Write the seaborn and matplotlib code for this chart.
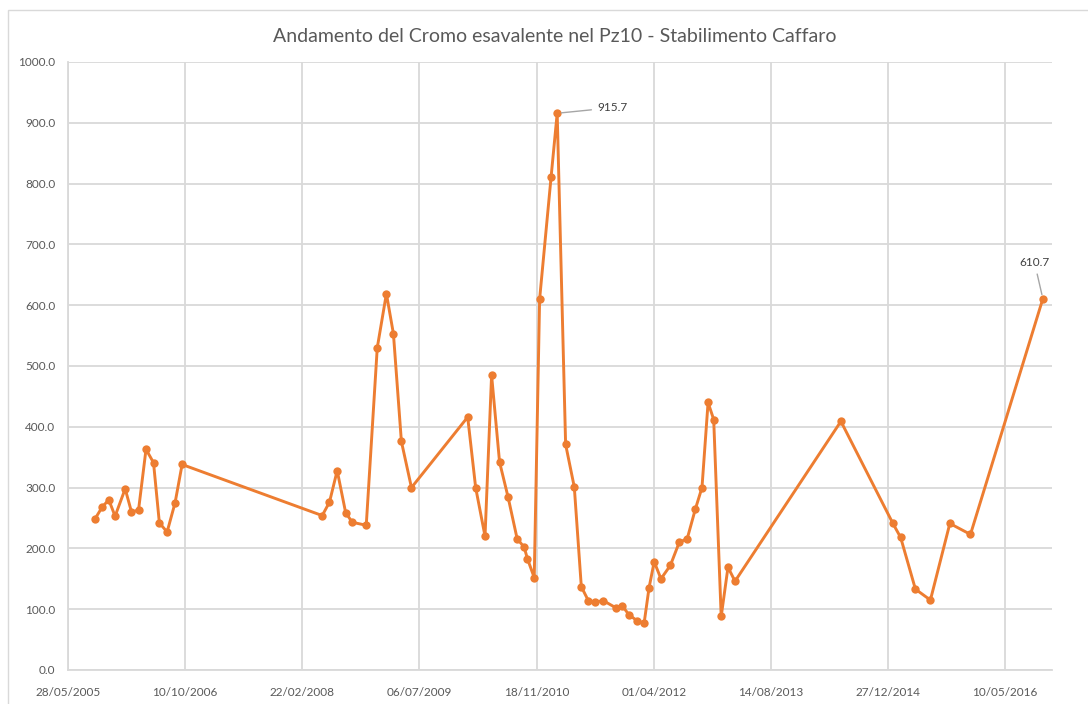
import matplotlib
matplotlib.use("Agg")
import matplotlib.pyplot as plt
import matplotlib.dates as mdates
from matplotlib.patches import Rectangle
from matplotlib.ticker import FuncFormatter
import numpy as np
import pandas as pd
import seaborn as sns

# Campionamenti del piezometro Pz10 (data, Cr VI)
date_campioni = [
    "2005-09-21", "2005-10-21", "2005-11-18", "2005-12-15", "2006-01-27",
    "2006-02-23", "2006-03-25", "2006-04-26", "2006-05-28", "2006-06-22",
    "2006-07-25", "2006-08-28", "2006-09-27", "2008-05-17", "2008-06-17",
    "2008-07-20", "2008-08-25", "2008-09-22", "2008-11-21", "2009-01-07",
    "2009-02-15", "2009-03-17", "2009-04-20", "2009-06-02", "2010-01-28",
    "2010-03-03", "2010-04-12", "2010-05-10", "2010-06-13", "2010-07-19",
    "2010-08-27", "2010-09-26", "2010-10-10", "2010-11-08", "2010-12-01",
    "2011-01-19", "2011-02-14", "2011-03-22", "2011-04-28", "2011-05-28",
    "2011-06-27", "2011-07-25", "2011-08-30", "2011-10-24", "2011-11-18",
    "2011-12-17", "2012-01-21", "2012-02-20", "2012-03-12", "2012-04-03",
    "2012-05-02", "2012-06-11", "2012-07-19", "2012-08-22", "2012-09-26",
    "2012-10-24", "2012-11-19", "2012-12-13", "2013-01-14", "2013-02-12",
    "2013-03-14", "2014-06-09", "2015-01-17", "2015-02-19", "2015-04-23",
    "2015-06-26", "2015-09-17", "2015-12-14", "2016-10-18",
]
cromo_vi = [
    249, 268, 280, 253, 298,
    260, 263, 363, 341, 242,
    227, 275, 338, 254, 276,
    328, 259, 243, 238, 530,
    619, 553, 376, 300, 416,
    300, 220, 485, 342, 285,
    216, 202, 183, 152, 610,
    811, 915.7, 371, 301, 137,
    114, 112, 114, 102, 106,
    91, 81, 77, 135, 178,
    150, 172, 210, 216, 265,
    300, 440, 412, 88, 169,
    146, 409, 241, 218, 133,
    115, 241, 223, 610.7,
]
etichette_valore = [915.7, 610.7]

titolo = "Andamento del Cromo esavalente nel Pz10 - Stabilimento Caffaro"
inizio_asse = "2005-05-28"
passo_giorni = 500
n_tacche = 9
y_tacche = [0, 100, 200, 300, 400, 500, 600, 700, 800, 900, 1000]

df = pd.DataFrame({"data": pd.to_datetime(date_campioni), "cr6": cromo_vi})

sns.set_theme(style="white")
plt.rcParams["font.family"] = ["Lato", "DejaVu Sans"]

ARANCIO = "#ED7D31"
GRIGIO_GRIGLIA = "#D9D9D9"
GRIGIO_TESTO = "#595959"

fig = plt.figure(figsize=(10.88, 7.04), dpi=100)
ax = fig.add_axes([68 / 1088, 1 - 670 / 704, (1052 - 68) / 1088, (670 - 62) / 704])

sns.lineplot(data=df, x="data", y="cr6", ax=ax, color=ARANCIO, linewidth=2.1,
             marker="o", markersize=6, markeredgewidth=0, markeredgecolor=ARANCIO,
             zorder=3)

t0 = pd.Timestamp(inizio_asse)
x_tacche = [t0 + pd.Timedelta(days=passo_giorni * k) for k in range(n_tacche)]
ax.set_xlim(mdates.date2num(t0), mdates.date2num(t0 + pd.Timedelta(days=passo_giorni * 8.4)))
ax.set_xticks(mdates.date2num(x_tacche))
ax.xaxis.set_major_formatter(mdates.DateFormatter("%d/%m/%Y"))
ax.set_ylim(0, 1000)
ax.set_yticks(y_tacche)
ax.yaxis.set_major_formatter(FuncFormatter(lambda v, p: f"{v:.1f}"))

ax.grid(True, color=GRIGIO_GRIGLIA, linewidth=1.3)
ax.set_axisbelow(True)
for lato in ("top", "right"):
    ax.spines[lato].set_visible(False)
for lato in ("left", "bottom"):
    ax.spines[lato].set_color(GRIGIO_GRIGLIA)
    ax.spines[lato].set_linewidth(1.3)
ax.tick_params(axis="both", length=0, labelsize=8.5, labelcolor=GRIGIO_TESTO)
ax.tick_params(axis="x", pad=12)
ax.tick_params(axis="y", pad=9)
ax.set_xlabel("")
ax.set_ylabel("")

# Etichette dei valori massimi con linea di richiamo
offsets = {915.7: ((29, 4), "left"), 610.7: ((-6, 26), "center")}
for v in etichette_valore:
    i = cromo_vi.index(v)
    (dx, dy), ha = offsets[v]
    ax.annotate(f"{v:.1f}", xy=(mdates.date2num(df["data"][i]), v),
                xytext=(dx, dy), textcoords="offset points", ha=ha, va="center",
                fontsize=8.5, color="#404040",
                arrowprops=dict(arrowstyle="-", color="#A6A6A6", lw=1.0,
                                shrinkA=2, shrinkB=3))

fig.text(555 / 1088, 1 - 36 / 704, titolo, ha="center", va="center",
         fontsize=14, color=GRIGIO_TESTO)

# Cornice del grafico
fig.patches.append(Rectangle((8 / 1088, -0.05), 1.1, 1 - 10 / 704 + 0.05,
                             transform=fig.transFigure, fill=False,
                             edgecolor="#D9D9D9", linewidth=1.0))

fig.savefig("out.png", dpi=100, facecolor="white")
